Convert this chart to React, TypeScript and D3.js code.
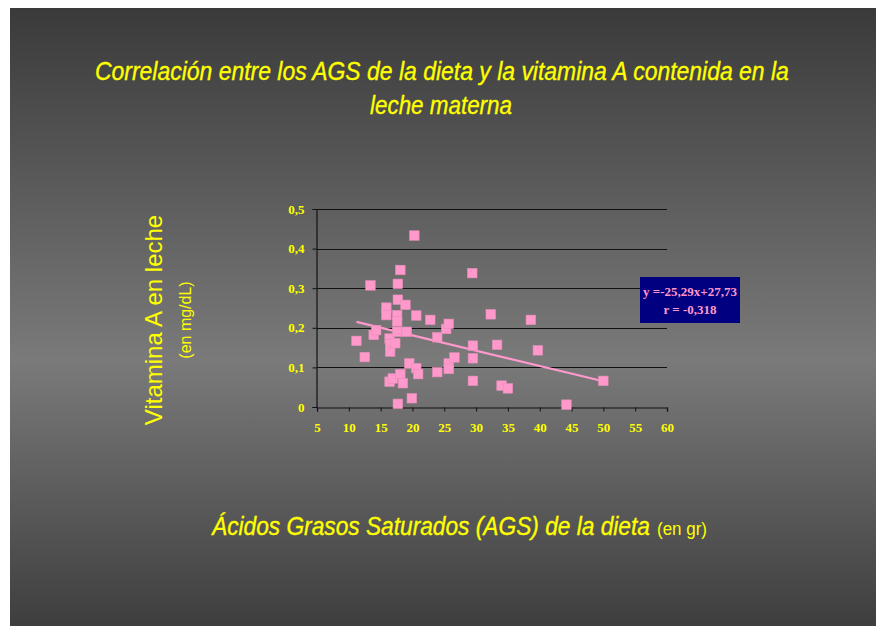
import React, { useEffect, useRef } from "react";
import * as d3 from "d3";

// AGS de la dieta (g) vs vitamina A en leche (mg/dL)
const ags = [
  11.2, 12.5, 13.4, 13.9, 14.3, 15.9, 15.9, 16.4, 16.5, 16.5, 16.4, 16.9, 17.3,
  17.6, 17.6, 17.6, 17.7, 17.7, 18.1, 17.7, 18.1, 18.5, 18.9, 19.1, 19.5, 19.9,
  20.3, 20.6, 20.6, 20.9, 22.8, 23.9, 23.9, 25.3, 25.7, 25.7, 25.7, 26.6, 29.4,
  29.5, 29.5, 29.5, 32.3, 33.3, 34.0, 35.0, 38.6, 39.7, 44.2, 50.0,
];
const vitA = [
  0.167, 0.126, 0.307, 0.182, 0.194, 0.251, 0.232, 0.173, 0.159, 0.14, 0.064,
  0.072, 0.161, 0.232, 0.216, 0.19, 0.271, 0.311, 0.346, 0.008, 0.083, 0.06,
  0.258, 0.19, 0.11, 0.022, 0.433, 0.231, 0.098, 0.083, 0.22, 0.176, 0.088,
  0.197, 0.21, 0.11, 0.096, 0.125, 0.338, 0.155, 0.123, 0.066, 0.234, 0.157,
  0.054, 0.047, 0.22, 0.143, 0.006, 0.066,
];
const trendX = [11.2, 50];
const trendY = [0.215, 0.065];
const xTicks = [5, 10, 15, 20, 25, 30, 35, 40, 45, 50, 55, 60];
const yTicks = [0, 0.1, 0.2, 0.3, 0.4, 0.5];
const equation = ["y =-25,29x+27,73", "r = -0,318"];

const YELLOW = "#ffff00";
const PINK = "#ff99cc";
const NARROW = "'Liberation Sans Narrow', 'Arial Narrow', 'Liberation Sans', sans-serif";
const SERIF = "'Liberation Serif', 'Times New Roman', serif";

type TextSel = d3.Selection<SVGTextElement, unknown, null, undefined>;

// squeeze a text horizontally so it spans `width` px starting at x0 (narrow-font look)
function fitText(t: TextSel, x0: number, y0: number, width: number) {
  const w = (t.node() as SVGTextElement).getComputedTextLength() || width;
  t.attr("transform", `translate(${x0},${y0}) scale(${width / w},1)`);
}

export default function App() {
  const svgRef = useRef<SVGSVGElement | null>(null);

  useEffect(() => {
    if (!svgRef.current) return;
    const svg = d3.select(svgRef.current);
    svg.selectAll("*").remove();

    const defs = svg.append("defs");
    const grad = defs
      .append("linearGradient")
      .attr("id", "bg")
      .attr("x1", 0)
      .attr("y1", 0)
      .attr("x2", 0)
      .attr("y2", 1);
    grad.append("stop").attr("offset", "0%").attr("stop-color", "#3a3a3a");
    grad.append("stop").attr("offset", "57%").attr("stop-color", "#7a7a7a");
    grad.append("stop").attr("offset", "100%").attr("stop-color", "#3e3e3e");

    svg
      .append("rect")
      .attr("x", 10)
      .attr("y", 8)
      .attr("width", 866)
      .attr("height", 618)
      .attr("fill", "url(#bg)");

    const narrowText = (txt: string, size: number, italic: boolean) =>
      svg
        .append("text")
        .attr("fill", YELLOW)
        .attr("stroke", italic ? YELLOW : "none")
        .attr("stroke-width", 0.35)
        .attr("font-family", NARROW)
        .attr("font-style", italic ? "italic" : "normal")
        .attr("font-size", size)
        .text(txt) as unknown as TextSel;

    // title
    fitText(
      narrowText("Correlación entre los AGS de la dieta y la vitamina A contenida en la", 26, true),
      95, 80, 694
    );
    fitText(narrowText("leche materna", 26, true), 370, 114, 142);

    const x = d3.scaleLinear().domain([5, 60]).range([317, 667]);
    const y = d3.scaleLinear().domain([0, 0.5]).range([407, 209]);

    // gridlines
    svg
      .append("g")
      .selectAll("line")
      .data(yTicks.slice(1))
      .enter()
      .append("line")
      .attr("x1", x(5))
      .attr("x2", x(60))
      .attr("y1", (d) => Math.round(y(d)) + 0.5)
      .attr("y2", (d) => Math.round(y(d)) + 0.5)
      .attr("stroke", "#111")
      .attr("stroke-width", 1.2);

    const fmt = (d: number) => String(d).replace(".", ",");

    const xAxis = d3
      .axisBottom(x)
      .tickValues(xTicks)
      .tickSize(4)
      .tickPadding(11)
      .tickFormat((d) => fmt(d as number));
    const gx = svg.append("g").attr("transform", "translate(0,407.5)").call(xAxis);
    const yAxis = d3
      .axisLeft(y)
      .tickValues(yTicks)
      .tickSize(4)
      .tickPadding(8)
      .tickFormat((d) => fmt(d as number));
    const gy = svg.append("g").attr("transform", "translate(316.5,0)").call(yAxis);

    [gx, gy].forEach((g) => {
      g.select(".domain").attr("stroke", "#111").attr("stroke-width", 1.2);
      g.selectAll(".tick line").attr("stroke", "#111");
      g.selectAll(".tick text")
        .attr("fill", YELLOW)
        .attr("font-family", SERIF)
        .attr("font-weight", "bold")
        .attr("font-size", 13);
    });

    // trend line
    const trend = trendX.map((v, i) => [v, trendY[i]] as [number, number]);
    svg
      .append("path")
      .datum(trend)
      .attr("fill", "none")
      .attr("stroke", PINK)
      .attr("stroke-width", 2.2)
      .attr(
        "d",
        d3
          .line<[number, number]>()
          .x((d) => x(d[0]))
          .y((d) => y(d[1]))
      );

    // markers
    const s = 9.5;
    svg
      .append("g")
      .selectAll("rect")
      .data(ags.map((v, i) => ({ a: v, v: vitA[i] })))
      .enter()
      .append("rect")
      .attr("x", (d) => x(d.a) - s / 2)
      .attr("y", (d) => y(d.v) - s / 2)
      .attr("width", s)
      .attr("height", s)
      .attr("fill", PINK)
      .attr("stroke", "#e58fb9")
      .attr("stroke-width", 0.6);

    // equation box
    svg
      .append("rect")
      .attr("x", 640)
      .attr("y", 277)
      .attr("width", 100)
      .attr("height", 46)
      .attr("fill", "#000080");
    svg
      .append("g")
      .selectAll("text")
      .data(equation)
      .enter()
      .append("text")
      .attr("x", 690)
      .attr("y", (d, i) => 296 + i * 18)
      .attr("text-anchor", "middle")
      .attr("fill", PINK)
      .attr("font-family", SERIF)
      .attr("font-weight", "bold")
      .attr("font-size", 13)
      .text((d) => d);

    // y title
    const yt = svg
      .append("g")
      .attr("transform", "translate(0,320) rotate(-90)")
      .attr("fill", YELLOW)
      .attr("font-family", "'Liberation Sans', Arial, sans-serif")
      .attr("text-anchor", "middle");
    yt.append("text")
      .attr("x", 0)
      .attr("y", 162)
      .attr("font-size", 24)
      .text("Vitamina A en leche");
    yt.append("text")
      .attr("x", 0)
      .attr("y", 191)
      .attr("font-size", 16)
      .text("(en mg/dL)");

    // x title
    fitText(narrowText("Ácidos Grasos Saturados (AGS) de la dieta", 26, true), 212, 535, 438);
    fitText(narrowText("(en gr)", 18, false), 657, 535, 50);
  }, []);

  return (
    <svg
      ref={svgRef}
      width={877}
      height={626}
      style={{ position: "absolute", left: 0, top: 0, background: "#fff" }}
    ></svg>
  );
}
